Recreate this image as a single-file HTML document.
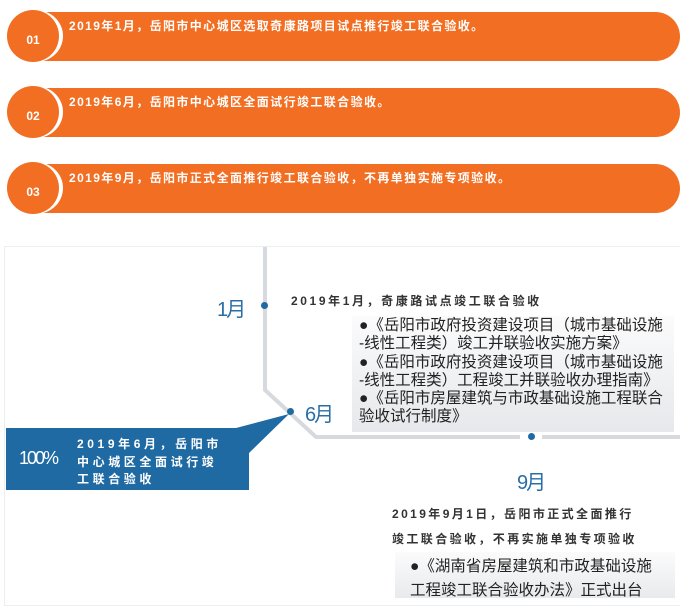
<!DOCTYPE html>
<html><head><meta charset="utf-8"><style>
*{margin:0;padding:0;box-sizing:border-box}
body{width:680px;height:598px;background:#fff;position:relative;overflow:hidden;font-family:"Liberation Sans","Noto Sans CJK SC",sans-serif}
.bar{position:absolute;left:40px;width:640px;height:49px;background:#f26e22;border-radius:0 25px 25px 0}
.ring{position:absolute;left:9px;width:54px;height:52px;border-radius:50%;background:#fff}
.circ{position:absolute;left:7px;width:52px;height:52px;border-radius:50%;background:#f26e22;color:#fff;font-size:12px;font-weight:bold;text-align:center;line-height:52px;padding-top:4px}
.bt{position:absolute;left:69px;color:#fff;font-size:12px;font-weight:bold;letter-spacing:1.4px;white-space:nowrap}
.abs{position:absolute;white-space:nowrap}
.m{position:absolute;color:#2a6ea6;font-size:20px;letter-spacing:-2px}
.dot{position:absolute;width:7px;height:7px;border-radius:50%;background:#1f6aa3}
.sp{font-weight:bold;font-size:12px;color:#333;letter-spacing:2.6px}
.li{font-size:15.5px;color:#222;line-height:18.3px}
</style></head><body>
<div class="bar" style="top:12px"></div><div class="ring" style="top:10px"></div><div class="circ" style="top:10px">01</div>
<div class="bt" style="top:17px">2019年1月，岳阳市中心城区选取奇康路项目试点推行竣工联合验收。</div>
<div class="bar" style="top:88px"></div><div class="ring" style="top:86px"></div><div class="circ" style="top:86px">02</div>
<div class="bt" style="top:93px">2019年6月，岳阳市中心城区全面试行竣工联合验收。</div>
<div class="bar" style="top:164px"></div><div class="ring" style="top:162px"></div><div class="circ" style="top:162px">03</div>
<div class="bt" style="top:169px">2019年9月，岳阳市正式全面推行竣工联合验收，不再单独实施专项验收。</div>

<div class="abs" style="left:4px;top:246px;width:680px;height:360px;border:1px solid #eceef0"></div>
<div class="abs" style="left:352px;top:316px;width:322px;height:116px;background:linear-gradient(#fbfbfc,#e6e8eb)"></div>
<div class="abs" style="left:395px;top:552px;width:280px;height:46px;background:linear-gradient(#fbfbfc,#e8eaec)"></div>
<svg class="abs" style="left:0;top:0" width="680" height="598">
<polyline points="265,247 265,390 316,437 520,437" fill="none" stroke="#d6d9dd" stroke-width="4"/>
<line x1="542" y1="437" x2="680" y2="437" stroke="#d6d9dd" stroke-width="4"/>
<polygon points="236,428 249,428 249,453 289,414" fill="#1f6aa3"/>
</svg>
<div class="dot" style="left:261px;top:302px"></div>
<div class="dot" style="left:287px;top:408px"></div>
<div class="dot" style="left:528px;top:433px"></div>
<div class="m" style="left:217px;top:293px">1月</div>
<div class="m" style="left:305px;top:398px">6月</div>
<div class="m" style="left:517px;top:466px">9月</div>
<div class="abs sp" style="left:291px;top:292px">2019年1月，奇康路试点竣工联合验收</div>
<div class="abs li" style="left:359px;top:317px">●《岳阳市政府投资建设项目（城市基础设施<br>-线性工程类）竣工并联验收实施方案》<br>●《岳阳市政府投资建设项目（城市基础设施<br>-线性工程类）工程竣工并联验收办理指南》<br>●《岳阳市房屋建筑与市政基础设施工程联合<br>验收试行制度》</div>
<div class="abs" style="left:6px;top:428px;width:243px;height:62px;background:#1f6aa3"></div>
<div class="abs" style="left:19px;top:448px;color:#fff;font-size:18px;letter-spacing:-2px">100%</div>
<div class="abs" style="left:77px;top:436px;color:#fff;font-size:12px;font-weight:bold;letter-spacing:3.6px;line-height:17.5px">2019年6月，岳阳市<br>中心城区全面试行竣<br>工联合验收</div>
<div class="abs sp" style="left:392px;top:502px;line-height:25px;letter-spacing:2.4px">2019年9月1日，岳阳市正式全面推行<br>竣工联合验收，不再实施单独专项验收</div>
<div class="abs li" style="left:410px;top:555px;line-height:24px">●《湖南省房屋建筑和市政基础设施<br>工程竣工联合验收办法》正式出台</div>
</body></html>
